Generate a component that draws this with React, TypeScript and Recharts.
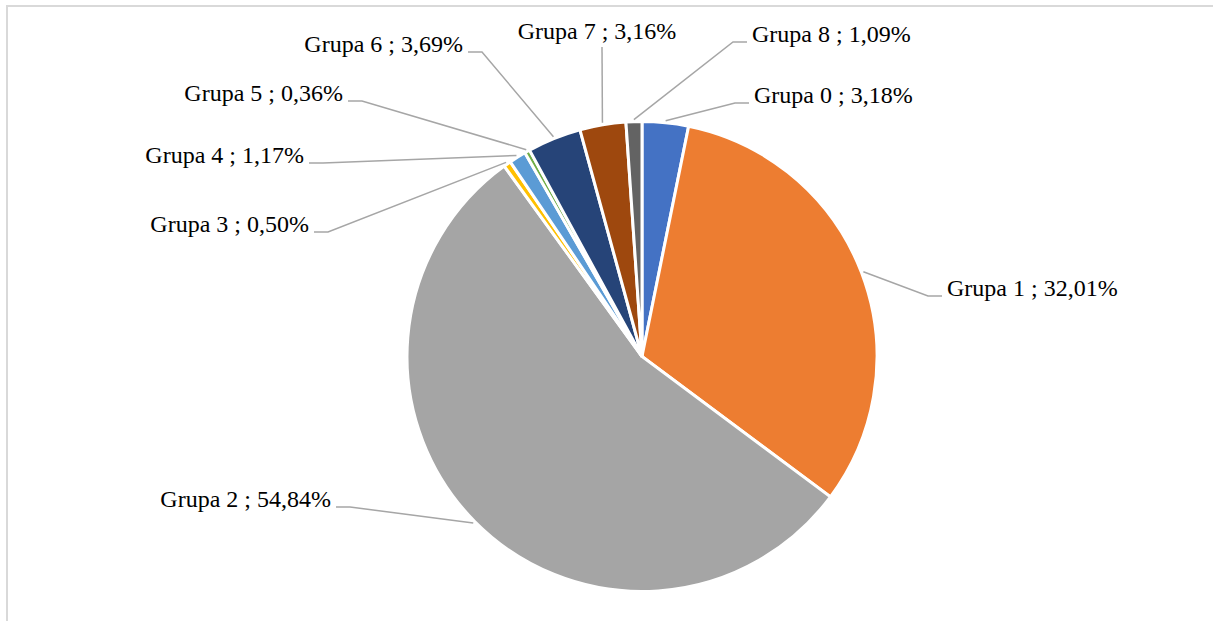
import { Pie, PieChart, Cell } from "recharts";

const NAMES = ["Grupa 0", "Grupa 1", "Grupa 2", "Grupa 3", "Grupa 4", "Grupa 5", "Grupa 6", "Grupa 7", "Grupa 8"];
const SHARES = [3.18, 32.01, 54.84, 0.5, 1.17, 0.36, 3.69, 3.16, 1.09];
const COLORS = ["#4472C4", "#ED7D31", "#A5A5A5", "#FFC000", "#5B9BD5", "#70AD47", "#264478", "#9E480E", "#636363"];

// label layout: knee of the leader line and which side the text sits on
const LABEL_POS = [
  { kx: 735, ky: 103, side: "right" },
  { kx: 928, ky: 296, side: "right" },
  { kx: 350, ky: 507, side: "left" },
  { kx: 328, ky: 232, side: "left" },
  { kx: 323, ky: 163, side: "left" },
  { kx: 362, ky: 101, side: "left" },
  { kx: 482, ky: 52, side: "left" },
  { kx: 602, ky: 47, side: "top" },
  { kx: 733, ky: 42, side: "right" },
];

const data = NAMES.map((name, i) => ({ name, value: SHARES[i] }));

const fmt = (v: number) => v.toFixed(2).replace(".", ",") + "%";

const RAD = Math.PI / 180;

function renderLabel(props: any) {
  const { cx, cy, midAngle, outerRadius, index, name, value } = props;
  const pos = LABEL_POS[index];
  const r = outerRadius + 2;
  const sx = cx + r * Math.cos(-midAngle * RAD);
  const sy = cy + r * Math.sin(-midAngle * RAD);
  const text = `${name} ; ${fmt(value)}`;
  const textStyle = { fontFamily: "'Liberation Serif', 'Times New Roman', serif", fontSize: 24, fill: "#000" };
  if (pos.side === "top") {
    return (
      <g key={index}>
        <polyline points={`${sx},${sy} ${pos.kx},${pos.ky}`} fill="none" stroke="#A6A6A6" strokeWidth={1.5} />
        <text x={pos.kx - 5} y={pos.ky - 8} textAnchor="middle" style={textStyle}>{text}</text>
      </g>
    );
  }
  const dir = pos.side === "right" ? 1 : -1;
  const ex = pos.kx + dir * 14;
  return (
    <g key={index}>
      <polyline points={`${sx},${sy} ${pos.kx},${pos.ky} ${ex},${pos.ky}`} fill="none" stroke="#A6A6A6" strokeWidth={1.5} />
      <text x={ex + dir * 5} y={pos.ky} textAnchor={dir > 0 ? "start" : "end"} style={textStyle}>{text}</text>
    </g>
  );
}

export default function App() {
  return (
    <div style={{ position: "absolute", left: 0, top: 0, width: 1213, height: 621, overflow: "hidden", background: "#fff" }}>
      <div style={{ position: "absolute", left: 6, top: 5, width: 1400, height: 800, borderLeft: "2px solid #D9D9D9", borderTop: "2px solid #D9D9D9" }} />
      <div style={{ position: "absolute", left: 0, top: 0 }}>
        <PieChart width={1213} height={621} margin={{ top: 0, right: 0, bottom: 0, left: 0 }}>
          <Pie
            data={data}
            dataKey="value"
            nameKey="name"
            cx={642}
            cy={356.5}
            outerRadius={235}
            startAngle={90}
            endAngle={-270}
            stroke="#FFFFFF"
            strokeWidth={3}
            label={renderLabel}
            labelLine={false}
            isAnimationActive={false}
          >
            {data.map((_, i) => (
              <Cell key={i} fill={COLORS[i]} />
            ))}
          </Pie>
        </PieChart>
      </div>
    </div>
  );
}
